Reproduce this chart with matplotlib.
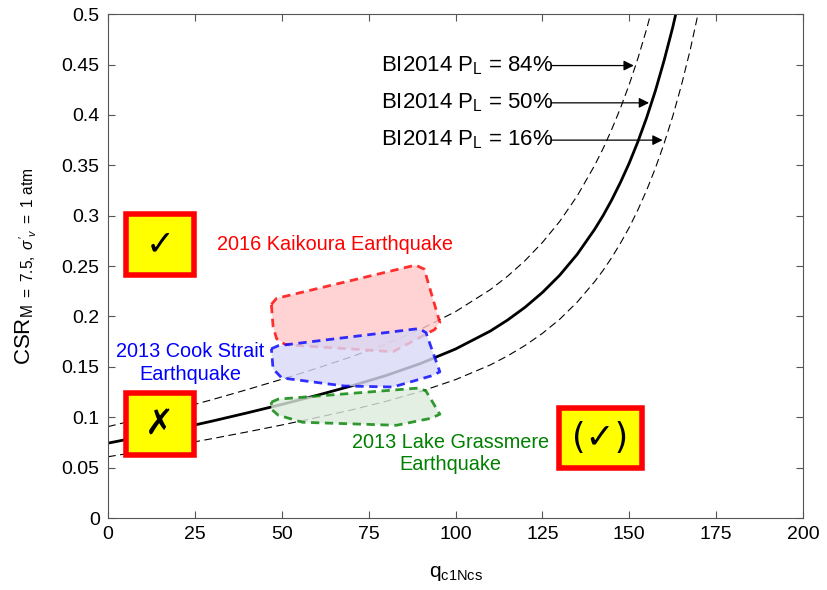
import numpy as np
import matplotlib
matplotlib.use("Agg")
import matplotlib.pyplot as plt
from matplotlib.patches import Polygon, Rectangle

plt.rcParams["font.family"] = ["Liberation Sans", "DejaVu Sans"]
plt.rcParams["mathtext.fontset"] = "custom"
plt.rcParams["mathtext.rm"] = "Liberation Sans"
plt.rcParams["mathtext.it"] = "Liberation Sans:italic"

# BI2014 triggering curves
q_curve = [0, 10, 20, 30, 40, 50, 60, 70, 80, 90, 100, 110, 115, 120, 125, 130,
           135, 140, 142.5, 145, 147.5, 150, 152.5, 155, 157.5, 160, 162.5,
           165, 167.5, 170, 172.5, 175]
crr_50 = [0.0743, 0.0811, 0.0885, 0.0962, 0.1043, 0.1127, 0.1216, 0.1310,
          0.1414, 0.1534, 0.1677, 0.1855, 0.1965, 0.2091, 0.2238, 0.2410,
          0.2616, 0.2863, 0.3003, 0.3160, 0.3333, 0.3523, 0.3736, 0.3973,
          0.4238, 0.4537, 0.4868, 0.5245, 0.5668, 0.6150, 0.6697, 0.7325]
crr_84 = [0.0907, 0.0991, 0.1081, 0.1175, 0.1274, 0.1377, 0.1485, 0.1600,
          0.1727, 0.1874, 0.2048, 0.2266, 0.2400, 0.2554, 0.2734, 0.2944,
          0.3195, 0.3497, 0.3668, 0.3860, 0.4071, 0.4303, 0.4563, 0.4853,
          0.5176, 0.5541, 0.5946, 0.6406, 0.6923, 0.7511, 0.8180, 0.8947]
crr_16 = [0.0608, 0.0664, 0.0725, 0.0788, 0.0854, 0.0923, 0.0996, 0.1072,
          0.1158, 0.1256, 0.1373, 0.1519, 0.1609, 0.1712, 0.1832, 0.1973,
          0.2142, 0.2344, 0.2459, 0.2587, 0.2729, 0.2884, 0.3059, 0.3253,
          0.3470, 0.3714, 0.3985, 0.4294, 0.4640, 0.5035, 0.5483, 0.5997]

# Earthquake CSR envelopes (q, CSR)
kaikoura_q = [47.0, 48.5, 88.5, 91.0, 95.5, 94.0, 82.0, 51.0, 48.5, 47.5]
kaikoura_y = [0.212, 0.218, 0.251, 0.247, 0.194, 0.187, 0.165, 0.172, 0.178, 0.190]
cook_q = [47.0, 49.0, 89.5, 91.5, 95.5, 93.0, 82.0, 68.0, 50.0, 47.5]
cook_y = [0.168, 0.171, 0.188, 0.184, 0.145, 0.141, 0.130, 0.131, 0.139, 0.148]
grass_q = [47.0, 49.0, 89.5, 91.5, 95.5, 93.0, 83.0, 56.0, 49.0, 47.0]
grass_y = [0.115, 0.118, 0.129, 0.126, 0.103, 0.099, 0.092, 0.095, 0.102, 0.108]

curve_labels = ["BI2014 P$_\\mathregular{L}$ = 84%", "BI2014 P$_\\mathregular{L}$ = 50%",
                "BI2014 P$_\\mathregular{L}$ = 16%"]
arrow_y = [0.449, 0.412, 0.375]
arrow_q = [151.3, 155.7, 159.6]

fig = plt.figure(figsize=(8.27, 5.90), dpi=100)
ax = fig.add_axes([0.1306, 0.122, 0.8404, 0.854])

ax.plot(q_curve, crr_84, "k--", lw=0.8, dashes=(7, 4))
ax.plot(q_curve, crr_16, "k--", lw=0.8, dashes=(7, 4))
ax.plot(q_curve, crr_50, "k-", lw=2.0)

regions = [
    (kaikoura_q, kaikoura_y, "red", "#ffc8c8"),
    (cook_q, cook_y, "blue", "#d9d9f7"),
    (grass_q, grass_y, "green", "#dcebdc"),
]
for qs, ys, ec, fc in regions:
    poly = Polygon(np.column_stack([qs, ys]), closed=True, facecolor=fc, alpha=0.8,
                   edgecolor=ec, lw=2.0, ls=(0, (3, 2)), joinstyle="round", zorder=2)
    ax.add_patch(poly)

ax.text(65.2, 0.271, "2016 Kaikoura Earthquake", color="red", fontsize=14.3,
        ha="center", va="center")
ax.text(23.6, 0.154, "2013 Cook Strait\nEarthquake", color="blue", fontsize=14.3,
        ha="center", va="center", linespacing=1.25)
ax.text(98.5, 0.064, "2013 Lake Grassmere\nEarthquake", color="green", fontsize=14.3,
        ha="center", va="center", linespacing=1.25)

for lab, yy, qq in zip(curve_labels, arrow_y, arrow_q):
    ax.text(78.6, yy, lab, fontsize=16, ha="left", va="center")
    ax.annotate("", xy=(qq, yy), xytext=(127.5, yy),
                arrowprops=dict(arrowstyle="-|>", color="k", lw=0.9,
                                mutation_scale=15, shrinkA=0, shrinkB=0))

# marker boxes
boxes = [(5.2, 0.241, 19.5, 0.061, "\u2713", "bold"),
         (5.2, 0.063, 19.5, 0.061, "\u2717", "bold"),
         (129.8, 0.050, 23.8, 0.059, "(\u2713)", "normal")]
for bx, by, bw, bh, sym, fw in boxes:
    ax.add_patch(Rectangle((bx, by), bw, bh, facecolor="yellow", edgecolor="red",
                           lw=4, zorder=5))
    ax.text(bx + bw / 2, by + bh / 2, sym, fontsize=25, ha="center", va="center",
            zorder=6, family=["DejaVu Sans"], fontweight=fw)

ax.set_xlim(0, 200)
ax.set_ylim(0, 0.5)
ax.set_xticks(np.arange(0, 201, 25))
ax.set_yticks(np.arange(0, 0.51, 0.05))
ax.set_yticklabels(["0", "0.05", "0.1", "0.15", "0.2", "0.25", "0.3", "0.35",
                    "0.4", "0.45", "0.5"])
ax.tick_params(direction="in", top=True, right=True, labelsize=14, length=5,
               color="#555555", pad=6)
for s in ax.spines.values():
    s.set_color("#555555")
    s.set_linewidth(0.8)

ax.set_xlabel("q$_\\mathregular{c1Ncs}$", fontsize=15, labelpad=15)
ax.set_ylabel("CSR$_{\\mathregular{M\\ =\\ 7.5,}\\ \\sigma'_{v}\\ \\mathregular{=\\ 1\\ atm}}$",
              fontsize=16, labelpad=16)

fig.savefig("out.png", dpi=100)
